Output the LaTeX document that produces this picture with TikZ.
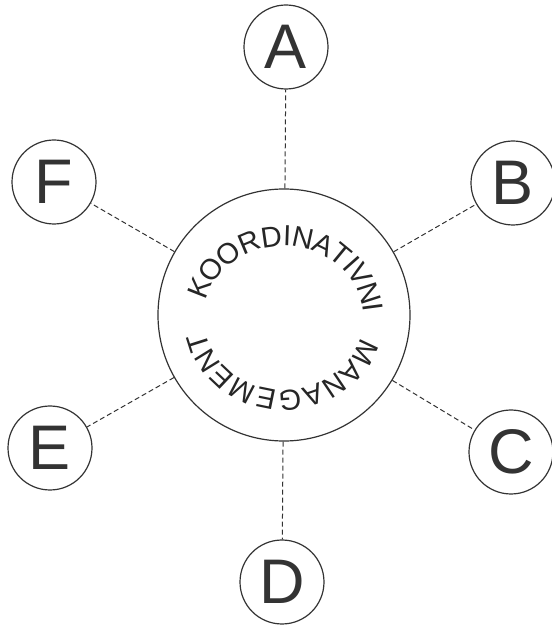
\documentclass[tikz,border=0pt]{standalone}
\usepackage{fontspec}
\setmainfont{Liberation Sans}
\newfontfamily\lsans{Liberation Sans}
\begin{document}
\begin{tikzpicture}[x=1pt,y=1pt,
  ink/.style={draw=black!80, line width=1.2pt},
  leaf/.style={ink, circle, minimum size=84pt, inner sep=0pt, fill=white,
    text=black!80, font=\lsans\fontsize{63}{63}\selectfont},
  hub/.style={ink, circle, minimum size=252pt, inner sep=0pt},
  link/.style={draw=black!80, line width=1pt, dash pattern=on 5pt off 3pt},
  ringch/.style={inner sep=0pt, anchor=center, text=black!85,
    font=\lsans\fontsize{29}{29}\selectfont}]
\useasboundingbox[fill=white] (0,0) rectangle (552,625);
\node[hub] (K) at (284,310) {};
\coordinate (R) at (284,307);
\node[leaf] (A) at (286,578) {A};
\node[leaf] (B) at (513,442) {B};
\node[leaf] (C) at (511,173) {C};
\node[leaf] (D) at (282,43) {D};
\node[leaf] (E) at (50,177) {E};
\node[leaf] (F) at (54,443) {F};
\foreach \n in {A,B,C,D,E,F} \draw[link] (K) -- (\n);
% top word
\gdef\ringcur{165.4}
\def\ringf{0.02036}
\foreach \ch/\w [count=\i] in {K/667,O/778,O/778,R/722,D/722,I/278,N/722,A/667,T/611,I/278,V/667,N/722,I/278}{
  \pgfmathsetmacro\ringmid{\ringcur-\w*\ringf/2}
  \pgfmathsetmacro\ringx{90*cos(\ringmid)}
  \pgfmathsetmacro\ringy{82*sin(\ringmid)}
  \node[ringch, rotate=\ringmid-90] (t\i) at ([shift={(\ringx pt,\ringy pt)}]R) {\ch};
  \pgfmathsetmacro\ringnxt{\ringcur-\w*\ringf}
  \global\let\ringcur\ringnxt
}
% bottom word
\gdef\ringcur{-16.55}
\def\ringf{0.02126}
\foreach \ch/\w [count=\i] in {M/833,A/667,N/722,A/667,G/778,E/667,M/833,E/667,N/722,T/611}{
  \pgfmathsetmacro\ringmid{\ringcur-\w*\ringf/2}
  \pgfmathsetmacro\ringx{90*cos(\ringmid)}
  \pgfmathsetmacro\ringy{82*sin(\ringmid)}
  \node[ringch, rotate=\ringmid-90] (b\i) at ([shift={(\ringx pt,\ringy pt)}]R) {\ch};
  \pgfmathsetmacro\ringnxt{\ringcur-\w*\ringf}
  \global\let\ringcur\ringnxt
}
\end{tikzpicture}
\end{document}
